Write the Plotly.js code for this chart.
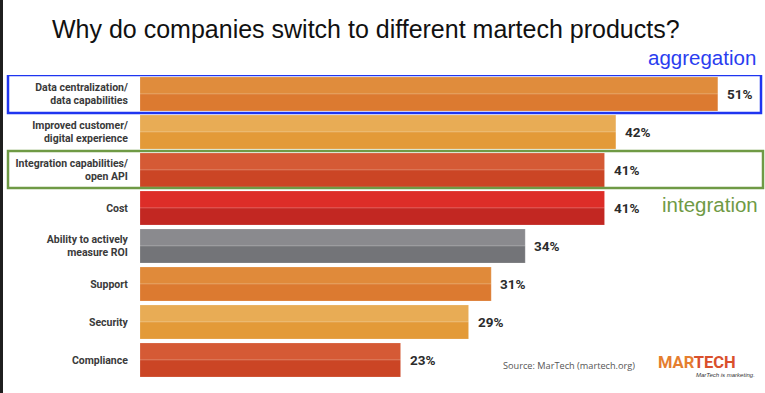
<!DOCTYPE html>
<html>
<head>
<meta charset="utf-8">
<script src="https://cdn.plot.ly/plotly-3.0.1.min.js"></script>
<style>
html,body{margin:0;padding:0;background:#1f1f1f;}
#chart{position:absolute;left:3px;top:0;width:762px;height:393px;background:#fff;}
</style>
</head>
<body>
<div id="chart"></div>
<script>
const categories = [
  "Data centralization/<br>data capabilities",
  "Improved customer/<br>digital experience",
  "Integration capabilities/<br>open API",
  "Cost",
  "Ability to actively<br>measure ROI",
  "Support",
  "Security",
  "Compliance"
];
const values = [51, 42, 41, 41, 34, 31, 29, 23];
const valueLabels = ["51%", "42%", "41%", "41%", "34%", "31%", "29%", "23%"];
const topColors = ["#E08C3C", "#E8AC55", "#D55A35", "#DD2D28", "#8A8A8E", "#E08A3A", "#E8AC55", "#D55A35"];
const bottomColors = ["#DC7A30", "#E39A38", "#CB4525", "#C22722", "#737478", "#DC7A30", "#E39A38", "#CB4525"];

const W = 762, H = 393;
const L = 137, R = 0, T = 75, B = 14;
const plotW = W - L - R;
const px = (p) => (p - L - 3) / plotW; // page pixel -> paper x
const py = (p) => 1 - (p - T) / (H - T - B); // page pixel -> paper y

const half = 0.447;
const traces = [
  {type: "bar", orientation: "h", y: categories, x: values,
   width: half, offset: -half,
   marker: {color: topColors, line: {color: "rgba(255,255,255,0.35)", width: 0.5}},
   hoverinfo: "skip"},
  {type: "bar", orientation: "h", y: categories, x: values,
   width: half, offset: 0,
   marker: {color: bottomColors, line: {color: "rgba(255,255,255,0.35)", width: 0.5}},
   hoverinfo: "skip"}
];

const annotations = values.map((v, i) => ({
  x: v, y: categories[i], xref: "x", yref: "y",
  text: "<b>" + valueLabels[i] + "</b>", showarrow: false,
  xanchor: "left", yanchor: "middle", xshift: 7,
  font: {family: "Roboto, 'DejaVu Sans', sans-serif", size: 13.5, color: "#2b2b2b"}
}));

annotations.push(
  {xref: "paper", yref: "paper", x: px(758), y: py(58),
   text: "aggregation", showarrow: false, xanchor: "right", yanchor: "middle",
   font: {family: "'Liberation Sans', Arial, sans-serif", size: 20.5, color: "#2a3df0"}},
  {xref: "paper", yref: "paper", x: px(760), y: py(205),
   text: "integration", showarrow: false, xanchor: "right", yanchor: "middle",
   font: {family: "'Liberation Sans', Arial, sans-serif", size: 20.5, color: "#6f9a45"}},
  {xref: "paper", yref: "paper", x: px(501), y: py(365),
   text: "Source: MarTech (martech.org)", showarrow: false, xanchor: "left", yanchor: "middle",
   font: {family: "'Open Sans', 'DejaVu Sans', sans-serif", size: 9.2, color: "#555"}},
  {xref: "paper", yref: "paper", x: px(656), y: py(362),
   text: "<b><span style='color:#E57E2F'>MAR</span><span style='color:#D9502C'>TECH</span></b>",
   showarrow: false, xanchor: "left", yanchor: "middle",
   font: {family: "Roboto, 'Liberation Sans', Arial, sans-serif", size: 16.5, color: "#E57E2F"}},
  {xref: "paper", yref: "paper", x: px(757), y: py(375),
   text: "<i>MarTech is marketing.</i>", showarrow: false, xanchor: "right", yanchor: "middle",
   font: {family: "'Liberation Sans', Arial, sans-serif", size: 6, color: "#333"}}
);

const yd = (p) => (p - T) / 38 - 0.5; // page pixel -> category position
const shapes = [
  {type: "rect", xref: "paper", yref: "y", x0: px(8), x1: px(761), y0: yd(75), y1: yd(113),
   line: {color: "#1f35f0", width: 2.5}, fillcolor: "rgba(0,0,0,0)", layer: "above"},
  {type: "rect", xref: "paper", yref: "y", x0: px(8), x1: px(763), y0: yd(151), y1: yd(188),
   line: {color: "#6f9a45", width: 2.5}, fillcolor: "rgba(0,0,0,0)", layer: "above"}
];

const layout = {
  width: W, height: H,
  margin: {l: L, r: R, t: T, b: B, pad: 0},
  paper_bgcolor: "#ffffff", plot_bgcolor: "#ffffff",
  barmode: "overlay",
  showlegend: false,
  title: {
    text: "Why do companies switch to different martech products?",
    xref: "container", yref: "container",
    x: 49 / W, xanchor: "left", y: 1 - 29 / H, yanchor: "middle",
    font: {family: "'Liberation Sans', Arial, Helvetica, sans-serif", size: 25, color: "#111"}
  },
  xaxis: {range: [0, plotW / 11.33], visible: false, fixedrange: true},
  yaxis: {
    type: "category", autorange: false, range: [7.5, -0.5],
    showgrid: false, zeroline: false, showline: false,
    ticks: "outside", ticklen: 9, tickcolor: "rgba(0,0,0,0)",
    tickfont: {family: "Roboto, 'DejaVu Sans', sans-serif", size: 10.5, color: "#3a3a3a", weight: "bold"},
    fixedrange: true
  },
  annotations: annotations,
  shapes: shapes
};

Plotly.newPlot("chart", traces, layout, {displayModeBar: false, staticPlot: true});
</script>
</body>
</html>
